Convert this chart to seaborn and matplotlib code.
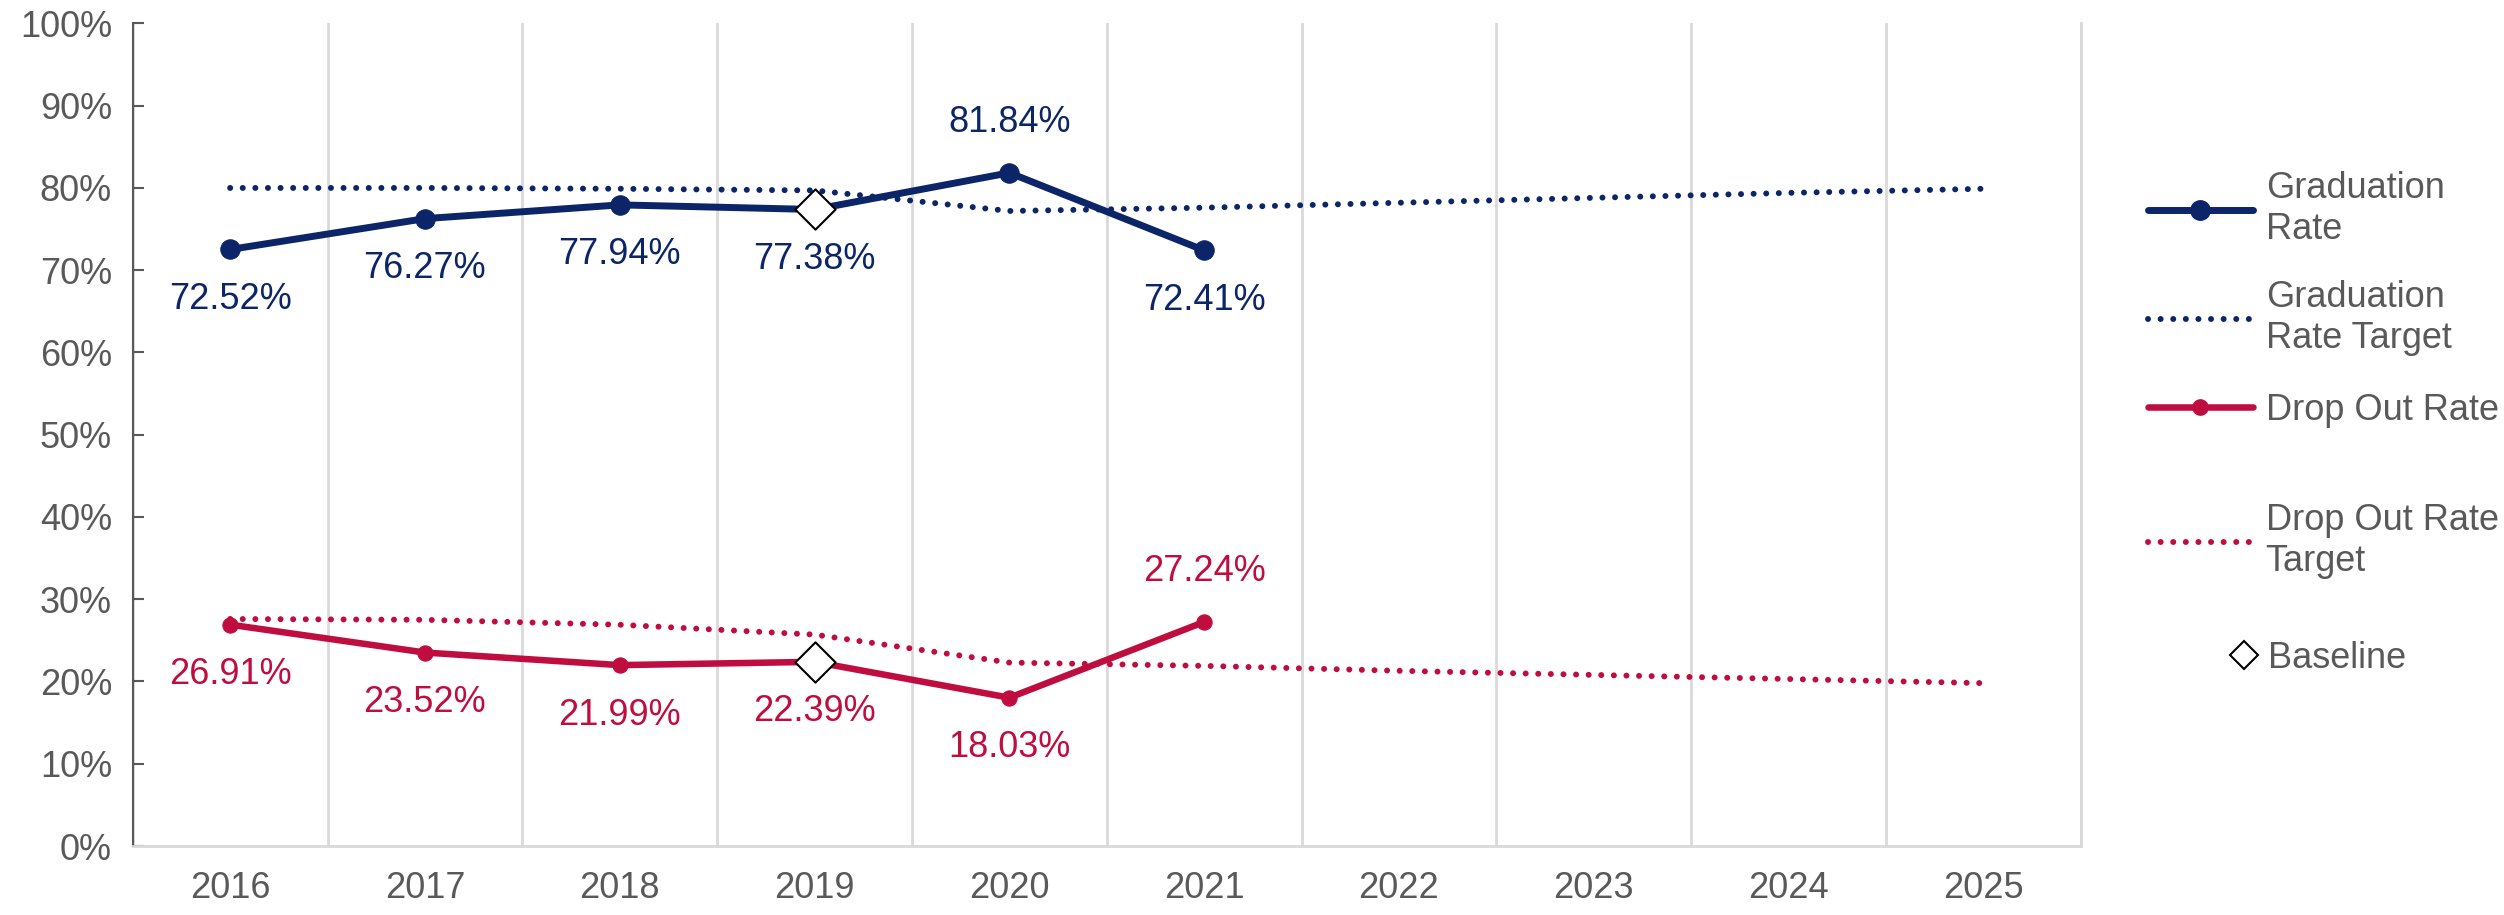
import numpy as np
import pandas as pd
import matplotlib
matplotlib.use('Agg')
import matplotlib.pyplot as plt
import seaborn as sns
from matplotlib.lines import Line2D
from matplotlib.ticker import FuncFormatter, MultipleLocator

# data
years = list(range(2016, 2026))
grad_years = [2016, 2017, 2018, 2019, 2020, 2021]
grad_rate = [72.52, 76.27, 77.94, 77.38, 81.84, 72.41]
drop_rate = [26.91, 23.52, 21.99, 22.39, 18.03, 27.24]
grad_target = [80.0, 80.0, 79.9, 79.7, 77.2, 77.6, 78.2, 78.8, 79.4, 79.9]
drop_target = [27.6, 27.5, 26.9, 25.7, 22.3, 21.9, 21.3, 20.8, 20.3, 19.8]
baseline_year = 2019
baseline_vals = [77.38, 22.39]
grad_label_pos = ['below', 'below', 'below', 'below', 'above', 'below']
drop_label_pos = ['below', 'below', 'below', 'below', 'below', 'above']

navy = '#0B2568'
crimson = '#C00D3F'
gray = '#595959'
light = '#D9D9D9'

sns.set_theme(style='white')
plt.rcParams['font.family'] = ['Liberation Sans', 'DejaVu Sans']

fig = plt.figure(figsize=(25.04, 9.15), dpi=100)
ax = fig.add_axes([0.053, 0.0754, 0.778, 0.899])

df_t = pd.DataFrame({'year': years, 'grad': grad_target, 'drop': drop_target})
df_r = pd.DataFrame({'year': grad_years, 'grad': grad_rate, 'drop': drop_rate})

dot = dict(linestyle=(0, (0.01, 2.1)), linewidth=4.3, dash_capstyle='round')
sns.lineplot(data=df_t, x='year', y='grad', color=navy, ax=ax, **dot)
sns.lineplot(data=df_t, x='year', y='drop', color=crimson, ax=ax, **dot)
sns.lineplot(data=df_r, x='year', y='grad', color=navy, linewidth=5,
             marker='o', markersize=14, markeredgecolor=navy, ax=ax)
sns.lineplot(data=df_r, x='year', y='drop', color=crimson, linewidth=4.7,
             marker='o', markersize=11, markeredgecolor=crimson, ax=ax)
sns.scatterplot(x=[baseline_year] * 2, y=baseline_vals, marker='D', s=420,
                color='white', edgecolor='black', linewidth=1.5, zorder=5, ax=ax)

for yr, v, pos in zip(grad_years, grad_rate, grad_label_pos):
    off = 36 if pos == 'above' else -36
    ax.annotate(f'{v:.2f}%', (yr, v), xytext=(0, off), textcoords='offset points',
                ha='center', va='center', fontsize=26, color=navy)
for yr, v, pos in zip(grad_years, drop_rate, drop_label_pos):
    off = 36 if pos == 'above' else -36
    ax.annotate(f'{v:.2f}%', (yr, v), xytext=(0, off), textcoords='offset points',
                ha='center', va='center', fontsize=26, color=crimson)

ax.set_xlim(2015.5, 2025.5)
ax.set_ylim(0, 100)
ax.set_xticks(years)
ax.set_xticklabels([str(y) for y in years])
ax.xaxis.set_minor_locator(MultipleLocator(1, offset=0.5))
ax.grid(True, which='minor', axis='x', color=light, linewidth=2)
ax.grid(False, which='major')
ax.yaxis.set_major_locator(MultipleLocator(10))
ax.yaxis.set_major_formatter(FuncFormatter(lambda v, p: f'{v:.0f}%'))
ax.tick_params(axis='y', direction='in', length=8, width=1.5, color=gray,
               labelsize=26, labelcolor=gray, pad=15, left=True)
ax.tick_params(axis='x', which='both', length=0, labelsize=26, labelcolor=gray, pad=18)
ax.set_xlabel('')
ax.set_ylabel('')
ax.spines['top'].set_visible(False)
ax.spines['left'].set_color(gray)
ax.spines['left'].set_linewidth(1.5)
for s in ['bottom', 'right']:
    ax.spines[s].set_color(light)
    ax.spines[s].set_linewidth(2)

# legend, one entry at a time to match the uneven spacing
entries = [
    (Line2D([], [], color=navy, lw=5, marker='o', ms=14), 'Graduation\nRate', 209, 2148, 2.9, 0.36),
    (Line2D([], [], color=navy, **dot), 'Graduation\nRate Target', 318, 2148, 2.9, 0.36),
    (Line2D([], [], color=crimson, lw=4.7, marker='o', ms=11), 'Drop Out Rate', 410, 2148, 2.9, 0.36),
    (Line2D([], [], color=crimson, **dot), 'Drop Out Rate\nTarget', 541, 2148, 2.9, 0.36),
    (Line2D([], [], color='none', marker='D', ms=14, markerfacecolor='white',
            markeredgecolor='black', markeredgewidth=1.5), 'Baseline', 658, 2226, 1.0, 0.17),
]
for h, lab, ypx, xpx, hl, tp in entries:
    leg = fig.legend(handles=[h], labels=[lab], loc='center left',
                     bbox_to_anchor=(xpx / 2504, 1 - ypx / 915), frameon=False,
                     fontsize=26, labelcolor=gray, borderpad=0, borderaxespad=0,
                     handlelength=hl, handletextpad=tp)

fig.savefig('out.png', dpi=100)
